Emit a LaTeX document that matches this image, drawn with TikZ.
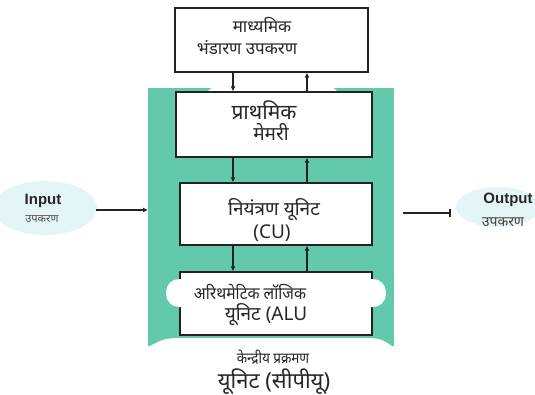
\documentclass[tikz,border=0pt]{standalone}
\usepackage{fontspec}
\setmainfont{Noto Sans}[Script=Devanagari]
\newfontfamily\latinfont{Liberation Sans}
\usetikzlibrary{arrows.meta}
\definecolor{cputeal}{RGB}{98,201,171}
\definecolor{iocloud}{RGB}{228,245,247}
\definecolor{boxline}{RGB}{35,35,35}
\begin{document}
\begin{tikzpicture}[x=1pt,y=-1pt,
  unitbox/.style={draw=boxline,line width=1.3pt,fill=white,inner sep=0pt},
  flow/.style={line width=1.2pt,draw=boxline,-{Latex[length=5pt,width=5pt]}},
  lbl/.style={anchor=base,text=black!85}]
\useasboundingbox (0,0) rectangle (535,394);
\fill[white] (0,0) rectangle (535,394);

% central processing unit background
\fill[cputeal] (148,88) rectangle (394,346);
% soft white areas over the teal
\fill[white] (205,95) .. controls (212,86) .. (225,86) -- (320,86)
  .. controls (333,86) .. (340,95) -- cycle;
\fill[white] (150,346) .. controls (165,338) .. (190,338) -- (355,338)
  .. controls (380,338) .. (392,346) -- cycle;

% input / output clouds
\fill[iocloud] (45,208) ellipse (52 and 27);
\fill[iocloud] (498,207) ellipse (42 and 20);

% units
\node[unitbox,minimum width=193pt,minimum height=64pt] (sec) at (271.5,40) {};
\node[lbl,font=\fontsize{17}{20}\selectfont] (sec1) at (262,32) {माध्यमिक};
\node[lbl,font=\fontsize{17}{20}\selectfont] (sec2) at (247,54) {भंडारण उपकरण};

\node[unitbox,minimum width=196pt,minimum height=65pt] (pri) at (274,124.5) {};
\node[lbl,font=\fontsize{21}{24}\selectfont] (pri1) at (264,119) {प्राथमिक};
\node[lbl,font=\fontsize{19}{22}\selectfont] (pri2) at (271,140) {मेमरी};

\node[unitbox,minimum width=192pt,minimum height=62pt] (cu) at (276,214) {};
\node[lbl,font=\fontsize{19}{22}\selectfont] (cu1) at (274,215) {नियंत्रण यूनिट};
\node[lbl,font=\fontsize{19}{22}\selectfont] (cu2) at (272,238) {(CU)};

\node[unitbox,minimum width=192pt,minimum height=63pt] (alu) at (276,303.5) {};
\fill[white,rounded corners=13pt] (166,279) rectangle (386,307);
\node[lbl,font=\fontsize{17}{20}\selectfont,xscale=0.92] (alu1) at (250,299) {अरिथमेटिक लॉजिक};
\node[lbl,font=\fontsize{19}{22}\selectfont] (alu2) at (266,320) {यूनिट (ALU};

% bottom caption
\node[lbl,font=\fontsize{15}{18}\selectfont,xscale=0.9] (cpu1) at (273,363) {केन्द्रीय प्रक्रमण};
\node[lbl,font=\fontsize{22}{26}\selectfont] (cpu2) at (274,388) {यूनिट (सीपीयू)};

% data paths between units
\draw[flow] (sec.south -| 233,0) -- (pri.north -| 233,0);
\draw[flow] (pri.north -| 307,0) -- (sec.south -| 307,0);
\draw[flow] (pri.south -| 233,0) -- (cu.north -| 233,0);
\draw[flow] (cu.north -| 307,0) -- (pri.south -| 307,0);
\draw[flow] (cu.south -| 233,0) -- (alu.north -| 233,0);
\draw[flow] (alu.north -| 307,0) -- (cu.south -| 307,0);

% input and output
\node[lbl,font=\latinfont\bfseries\fontsize{15}{18}\selectfont] (inlbl) at (43,204) {Input};
\node[lbl,font=\fontsize{11}{13}\selectfont,text=black!70] (inlbl2) at (42,222) {उपकरण};
\coordinate (inend) at (96,210);
\coordinate (cpuin) at (148,210);
\draw[flow] (inend) -- (cpuin);

\node[lbl,font=\latinfont\bfseries\fontsize{15}{18}\selectfont] (outlbl) at (508,203) {Output};
\node[lbl,font=\fontsize{14}{17}\selectfont,text=black!75] (outlbl2) at (503,226) {उपकरण};
\coordinate (cpuout) at (403,213);
\coordinate (outend) at (451,213);
\draw[line width=1.6pt,draw=boxline,-{Bar[width=8pt]}] (cpuout) -- (outend);
\end{tikzpicture}
\end{document}
